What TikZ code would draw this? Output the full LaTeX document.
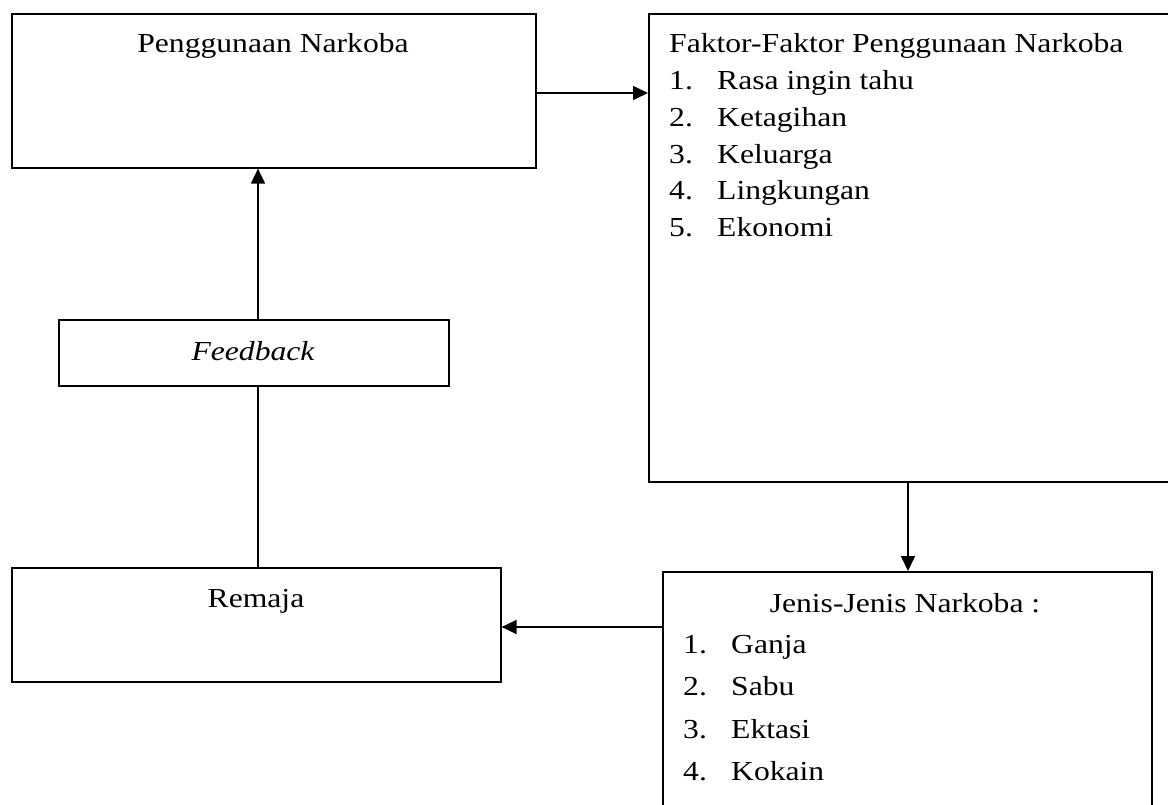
\documentclass[tikz,border=0pt]{standalone}
\usepackage{fontspec}
\setmainfont[FakeStretch=1.15]{Liberation Serif}
\usetikzlibrary{arrows.meta}
\tikzset{
  box/.style={draw, line width=1.6pt, rectangle, inner sep=0pt, anchor=north west},
  txt/.style={inner sep=0pt, font=\fontsize{27.5}{33}\selectfont},
  arr/.style={line width=1.6pt, -{Triangle[length=15pt,width=14pt]}},
  ln/.style={line width=1.6pt}
}
\begin{document}
\begin{tikzpicture}[x=1pt,y=-1pt]
\clip (0,0) rectangle (1168,805);
\fill[white] (0,0) rectangle (1168,805);
% boxes
\node[box, minimum width=524pt, minimum height=154pt] (b1) at (11,13) {};
\node[box, minimum width=540pt, minimum height=468pt] (b2) at (648,13) {};
\node[box, minimum width=390pt, minimum height=66pt] (fb) at (58,319) {};
\node[box, minimum width=489pt, minimum height=114pt] (b4) at (11,567) {};
\node[box, minimum width=489pt, minimum height=260pt] (b5) at (662,571) {};
% texts
\node[txt, anchor=base] (t1) at (273,53) {Penggunaan Narkoba};
\node[txt, anchor=base west] (t2) at (669,53) {Faktor-Faktor Penggunaan Narkoba};
\node[txt, anchor=base west] (n21) at (669,90) {1.};
\node[txt, anchor=base west] (i21) at (717,90) {Rasa ingin tahu};
\node[txt, anchor=base west] (n22) at (669,127) {2.};
\node[txt, anchor=base west] (i22) at (717,127) {Ketagihan};
\node[txt, anchor=base west] (n23) at (669,164) {3.};
\node[txt, anchor=base west] (i23) at (717,164) {Keluarga};
\node[txt, anchor=base west] (n24) at (669,200) {4.};
\node[txt, anchor=base west] (i24) at (717,200) {Lingkungan};
\node[txt, anchor=base west] (n25) at (669,237) {5.};
\node[txt, anchor=base west] (i25) at (717,237) {Ekonomi};
\node[txt, anchor=base] (t3) at (253,360) {\itshape Feedback};
\node[txt, anchor=base] (t4) at (256,607) {Remaja};
\node[txt, anchor=base] (t5) at (905,612) {Jenis-Jenis Narkoba :};
\node[txt, anchor=base west] (n51) at (683,653) {1.};
\node[txt, anchor=base west] (i51) at (731,653) {Ganja};
\node[txt, anchor=base west] (n52) at (683,695) {2.};
\node[txt, anchor=base west] (i52) at (731,695) {Sabu};
\node[txt, anchor=base west] (n53) at (683,738) {3.};
\node[txt, anchor=base west] (i53) at (731,738) {Ektasi};
\node[txt, anchor=base west] (n54) at (683,780) {4.};
\node[txt, anchor=base west] (i54) at (731,780) {Kokain};
% connectors
\coordinate (vx) at (258,0);
\coordinate (vx2) at (908,0);
\coordinate (hy1) at (0,93);
\coordinate (hy2) at (0,627);
\draw[arr] (b1.east |- hy1) -- (b2.west |- hy1);
\draw[arr] (b2.south -| vx2) -- (b5.north -| vx2);
\draw[arr] (b5.west |- hy2) -- (b4.east |- hy2);
\draw[ln] (b4.north -| vx) -- (fb.south -| vx);
\draw[arr] (fb.north -| vx) -- (b1.south -| vx);
\end{tikzpicture}
\end{document}
